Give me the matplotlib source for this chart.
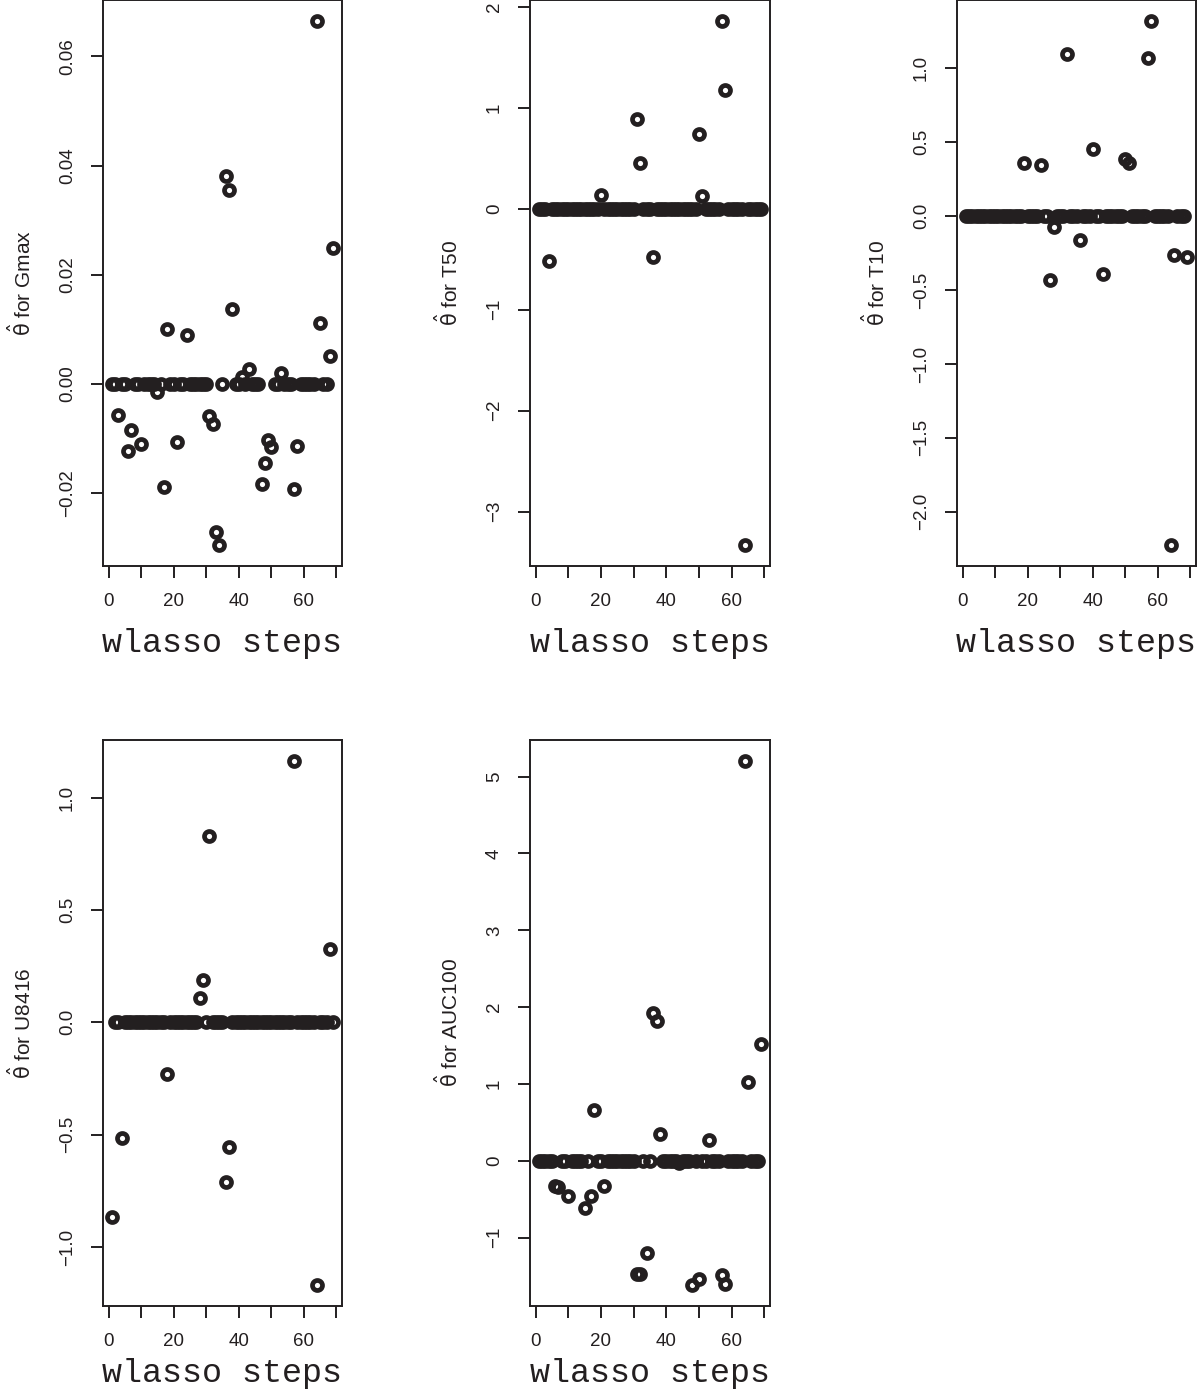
import matplotlib
matplotlib.use("Agg")
import matplotlib.pyplot as plt

# pasos del wlasso (1..69) y estimaciones
steps = list(range(1, 70))

gmax = [
    0, 0, -0.0056, 0, 0, -0.0123, -0.0084, 0, 0, -0.0110,
    0, 0, 0, 0, -0.0015, 0, -0.0189, 0.0101, 0, 0,
    -0.0107, 0, 0, 0.0089, 0, 0, 0, 0, 0, 0,
    -0.0059, -0.0073, -0.0272, -0.0295, 0, 0.0381, 0.0356, 0.0137, 0, 0,
    0.0012, 0, 0.0028, 0, 0, 0, -0.0183, -0.0144, -0.0102, -0.0115,
    0, 0, 0.0021, 0, 0, 0, -0.0193, -0.0114, 0, 0,
    0, 0, 0, 0.0665, 0.0112, 0, 0, 0.0052, 0.0249,
]
t50 = [
    0, 0, 0, -0.517, 0, 0, 0, 0, 0, 0,
    0, 0, 0, 0, 0, 0, 0, 0, 0, 0.138,
    0, 0, 0, 0, 0, 0, 0, 0, 0, 0,
    0.889, 0.451, 0, 0, 0, -0.476, 0, 0, 0, 0,
    0, 0, 0, 0, 0, 0, 0, 0, 0, 0.738,
    0.121, 0, 0, 0, 0, 0, 1.857, 1.172, 0, 0,
    0, 0, 0, -3.33, 0, 0, 0, 0, 0,
]
t10 = [
    0, 0, 0, 0, 0, 0, 0, 0, 0, 0,
    0, 0, 0, 0, 0, 0, 0, 0, 0.357, 0,
    0, 0, 0, 0.348, 0, 0, -0.431, -0.074, 0, 0,
    0, 1.096, 0, 0, 0, -0.160, 0, 0, 0, 0.454,
    0, 0, -0.394, 0, 0, 0, 0, 0, 0, 0.390,
    0.362, 0, 0, 0, 0, 0, 1.073, 1.321, 0, 0,
    0, 0, 0, -2.225, -0.262, 0, 0, 0, -0.274,
]
u8416 = [
    -0.865, 0, 0, -0.516, 0, 0, 0, 0, 0, 0,
    0, 0, 0, 0, 0, 0, 0, -0.230, 0, 0,
    0, 0, 0, 0, 0, 0, 0, 0.108, 0.187, 0,
    0.831, 0, 0, 0, 0, -0.712, -0.555, 0, 0, 0,
    0, 0, 0, 0, 0, 0, 0, 0, 0, 0,
    0, 0, 0, 0, 0, 0, 1.163, 0, 0, 0,
    0, 0, 0, -1.169, 0, 0, 0, 0.327, 0,
]
auc100 = [
    0, 0, 0, 0, 0, -0.325, -0.345, 0, 0, -0.452,
    0, 0, 0, 0, -0.612, 0, -0.452, 0.662, 0, 0,
    -0.331, 0, 0, 0, 0, 0, 0, 0, 0, 0,
    -1.470, -1.475, 0, -1.202, 0, 1.929, 1.825, 0.347, 0, 0,
    0, 0, 0, -0.028, 0, 0, 0, -1.615, 0, -1.533,
    0, 0, 0.276, 0, 0, 0, -1.488, -1.604, 0, 0,
    0, 0, 0, 5.204, 1.031, 0, 0, 0, 1.527,
]

nombres = ["Gmax", "T50", "T10", "U8416", "AUC100"]

x_ticks = [0, 10, 20, 30, 40, 50, 60, 70]
x_labels = ["0", "", "20", "", "40", "", "60", ""]

y_ticks = [
    [-0.02, 0.00, 0.02, 0.04, 0.06],
    [-3, -2, -1, 0, 1, 2],
    [-2.0, -1.5, -1.0, -0.5, 0.0, 0.5, 1.0],
    [-1.0, -0.5, 0.0, 0.5, 1.0],
    [-1, 0, 1, 2, 3, 4, 5],
]
y_labels = [
    ["\u22120.02", "0.00", "0.02", "0.04", "0.06"],
    ["\u22123", "\u22122", "\u22121", "0", "1", "2"],
    ["\u22122.0", "\u22121.5", "\u22121.0", "\u22120.5", "0.0", "0.5", "1.0"],
    ["\u22121.0", "\u22120.5", "0.0", "0.5", "1.0"],
    ["\u22121", "0", "1", "2", "3", "4", "5"],
]

series = [gmax, t50, t10, u8416, auc100]

# cajas de los paneles en pixeles (x0, x1, y0, y1), y medido desde arriba
W, H = 1200, 1393
cajas = [
    (103, 342, 0, 566),
    (530, 770, 0, 566),
    (957, 1196, 0, 566),
    (103, 342, 740, 1306),
    (530, 770, 740, 1306),
]
# linea base del titulo del eje x, por fila
base_xlab = [652, 652, 652, 1382, 1382]

ink = "#231f20"
plt.rcParams["mathtext.fontset"] = "dejavusans"

fig = plt.figure(figsize=(W / 100, H / 100), dpi=100)

for vals, nombre, yt, yl, (x0, x1, y0, y1), yb in zip(series, nombres, y_ticks,
                                                      y_labels, cajas, base_xlab):
    ax = fig.add_axes([x0 / W, 1 - y1 / H, (x1 - x0) / W, (y1 - y0) / H])
    ax.plot(steps, vals, linestyle="none", marker="o", ms=7.2, mew=3.4,
            mec=ink, mfc="none")

    # margen del 4% como en R
    xr = max(steps) - min(steps)
    ax.set_xlim(min(steps) - 0.04 * xr, max(steps) + 0.04 * xr)
    lo, hi = min(vals), max(vals)
    yr = hi - lo
    ax.set_ylim(lo - 0.04 * yr, hi + 0.04 * yr)

    ax.set_xticks(x_ticks)
    ax.set_xticklabels(x_labels, fontfamily="Liberation Sans", fontsize=13.5, color=ink)
    ax.set_yticks(yt)
    ax.set_yticklabels(yl, fontfamily="Liberation Sans", fontsize=13.5, color=ink,
                       rotation=90, va="center")
    ax.tick_params(direction="out", length=8.5, width=1.4, color=ink, pad=11)
    for s in ax.spines.values():
        s.set_linewidth(1.4)
        s.set_color(ink)

    fig.text((x0 - 82) / W, 1 - (y0 + y1) / 2 / H,
             r"$\hat{\mathrm{\theta}}$ for " + nombre,
             rotation=90, ha="center", va="center", fontsize=15,
             fontfamily="Liberation Sans", color=ink)
    fig.text((x0 + x1) / 2 / W, 1 - yb / H, "wlasso steps",
             ha="center", va="baseline", fontsize=24, fontfamily="Liberation Mono",
             color=ink)

fig.savefig("out.png", dpi=100, facecolor="white")
